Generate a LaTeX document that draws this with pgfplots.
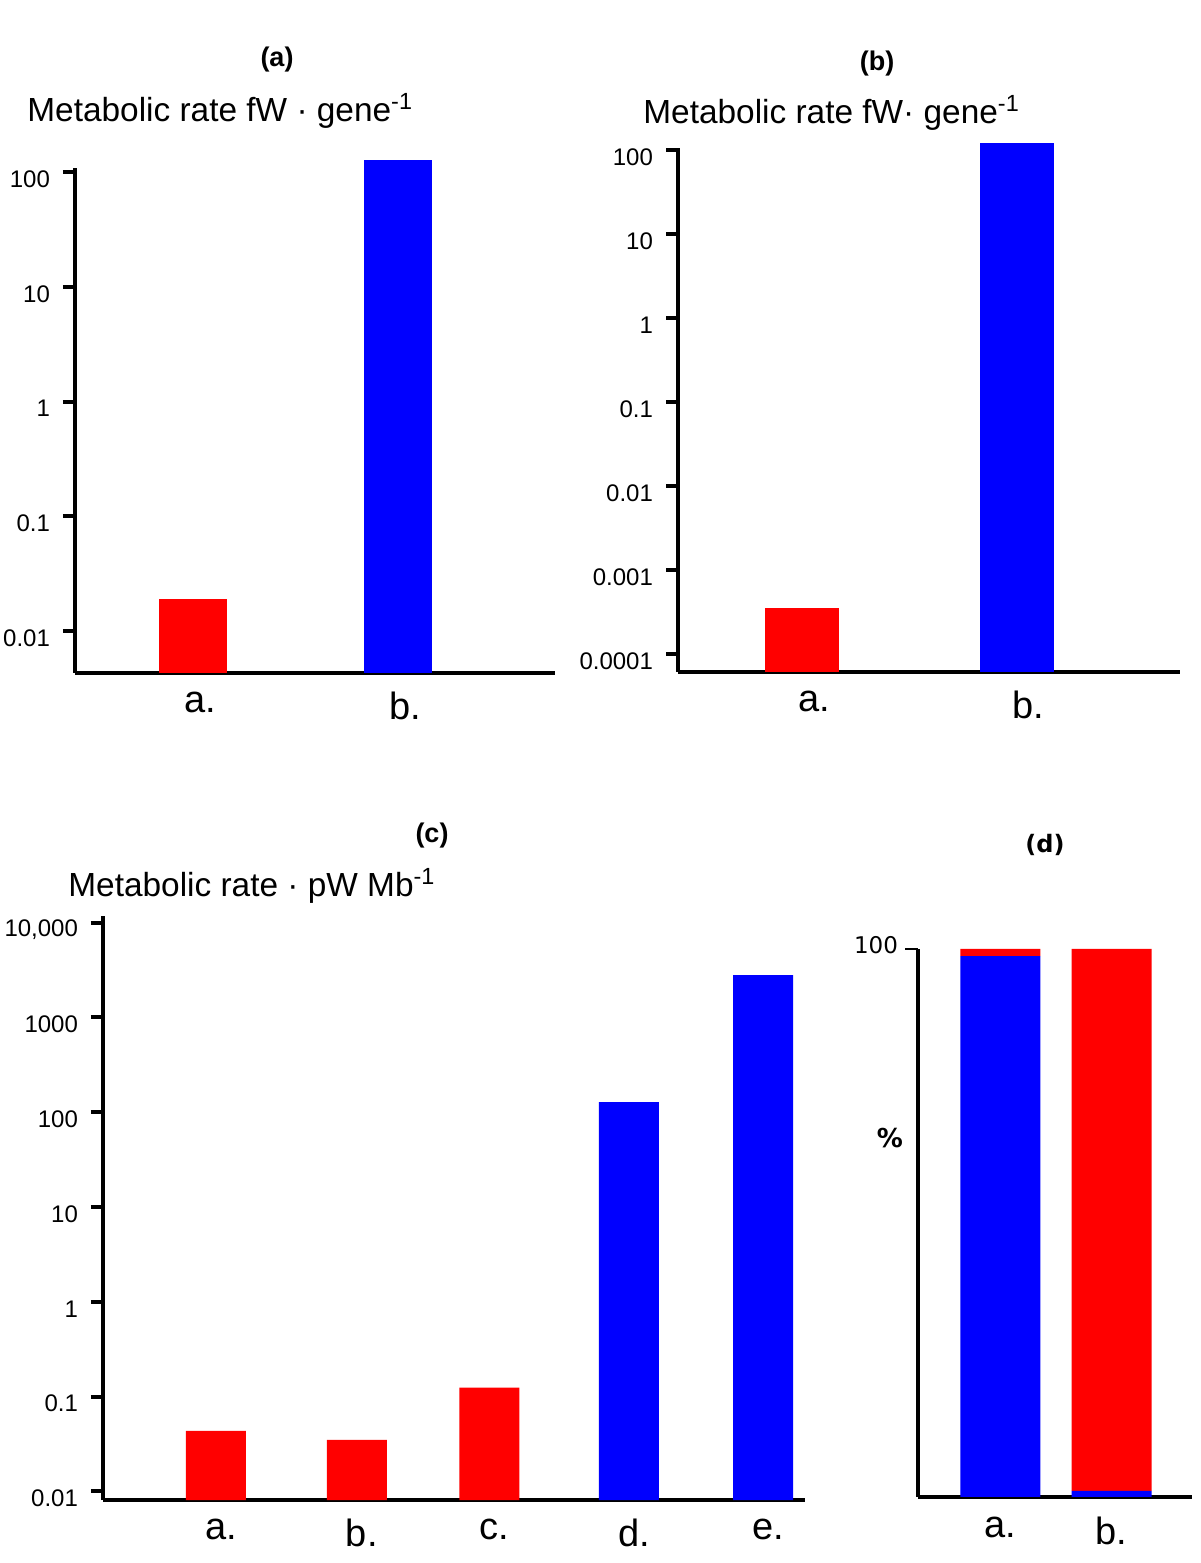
\documentclass[border=0pt]{standalone}
\usepackage{fontspec}
\setmainfont{Liberation Sans}
\newfontfamily\dejavu{DejaVu Sans}
\usepackage{pgfplots}
\pgfplotsset{compat=1.18}

\pgfplotsset{
  panel/.style={
    scale only axis, anchor=south west, clip=false,
    axis x line=bottom, axis y line=left,
    axis line style={-, line width=2pt},
    /pgf/number format/assume math mode=true,
    tick align=outside, major tick length=6pt,
    ytick style={line width=2pt, black},
    xtick style={draw=none},
    yminorticks=false,
    yticklabel style={font=\fontsize{12}{13}\selectfont, yshift=-3.5pt, xshift=-3pt},
    xticklabel style={font=\fontsize{19}{21}\selectfont},
  },
}

\begin{document}
\begin{tikzpicture}
\path[use as bounding box] (0,0) rectangle (600pt,781.5pt);

% (a)
\begin{axis}[panel, ybar, ymode=log, log origin y=infty,
  at={(37.5pt,445pt)}, width=240pt, height=252.5pt,
  xmin=-0.574, xmax=1.762, ymin=0.0043, ymax=109,
  ytick={0.01,0.1,1,10,100}, yticklabels={0.01,0.1,1,10,100},
  xtick={0,1}, xticklabels={a.,b.}, bar width=34pt,
  xticklabel style={xshift=3.5pt}]
\addplot[fill=red, draw=none, bar shift=0pt] coordinates {(0,0.019)};
\addplot[fill=blue, draw=none, bar shift=0pt] coordinates {(1,128)};
\end{axis}

% (b)
\begin{axis}[panel, ybar, ymode=log, log origin y=infty,
  at={(339pt,445.5pt)}, width=251pt, height=262pt,
  xmin=-0.578, xmax=1.762, ymin=6.07e-5, ymax=107,
  ytick={0.0001,0.001,0.01,0.1,1,10,100},
  yticklabels={0.0001,0.001,0.01,0.1,1,10,100},
  xtick={0,1}, xticklabels={a.,b.}, bar width=37pt,
  xticklabel style={xshift=6pt}]
\addplot[fill=red, draw=none, bar shift=0pt] coordinates {(0,0.00035)};
\addplot[fill=blue, draw=none, bar shift=0pt] coordinates {(1,122)};
\end{axis}

% (c)
\begin{axis}[panel, ybar, ymode=log, log origin y=infty,
  at={(51.5pt,31.5pt)}, width=351pt, height=292pt,
  xmin=-0.826, xmax=4.307, ymin=0.0081, ymax=11770,
  ytick={0.01,0.1,1,10,100,1000,10000},
  yticklabels={0.01,0.1,1,10,100,1000,{10,000}},
  xtick={0,1.03,2,3.02,4}, xticklabels={a.,b.,c.,d.,e.}, bar width=30pt,
  xticklabel style={xshift=2.5pt}]
\addplot[fill=red, draw=none, bar shift=0pt] coordinates {(0,0.0435) (1.03,0.035) (2,0.124)};
\addplot[fill=blue, draw=none, bar shift=0pt] coordinates {(3.02,128) (4,2800)};
\end{axis}

% (d)
\begin{axis}[panel, ybar stacked, at={(459pt,33pt)}, width=137pt, height=274pt,
  xmin=-0.743, xmax=1.725, ymin=0, ymax=100,
  ytick={100}, yticklabels={100},
  ytick style={line width=0.8pt, black}, major tick length=6.5pt,
  yticklabel style={font=\dejavu\fontsize{11.5}{12}\selectfont, yshift=5.5pt, xshift=3pt},
  xtick={0,1}, xticklabels={a.,b.}, bar width=40pt]
\addplot[fill=blue, draw=none] coordinates {(0,98.7) (1,1.1)};
\addplot[fill=red, draw=none] coordinates {(0,1.3) (1,98.9)};
\end{axis}

% panel letters and titles
\node[font=\bfseries\fontsize{13.5}{14}\selectfont] at (138.5pt,751.5pt) {(a)};
\node[anchor=west, inner sep=0pt, font=\fontsize{16.7}{18}\selectfont] at (13.5pt,726pt) {Metabolic rate fW · gene\textsuperscript{-1}};
\node[font=\bfseries\fontsize{13.5}{14}\selectfont] at (438.5pt,749.5pt) {(b)};
\node[anchor=west, inner sep=0pt, font=\fontsize{16.7}{18}\selectfont] at (321.5pt,725pt) {Metabolic rate fW· gene\textsuperscript{-1}};
\node[font=\bfseries\fontsize{13.5}{14}\selectfont] at (216pt,363.5pt) {(c)};
\node[anchor=west, inner sep=0pt, font=\fontsize{16.7}{18}\selectfont] at (34pt,338.5pt) {Metabolic rate · pW Mb\textsuperscript{-1}};
\node[font=\dejavu\bfseries\fontsize{12}{14}\selectfont] at (522.5pt,359pt) {(d)};
\node[font=\dejavu\bfseries\fontsize{13}{14}\selectfont] at (445pt,212.5pt) {\%};
\end{tikzpicture}
\end{document}
